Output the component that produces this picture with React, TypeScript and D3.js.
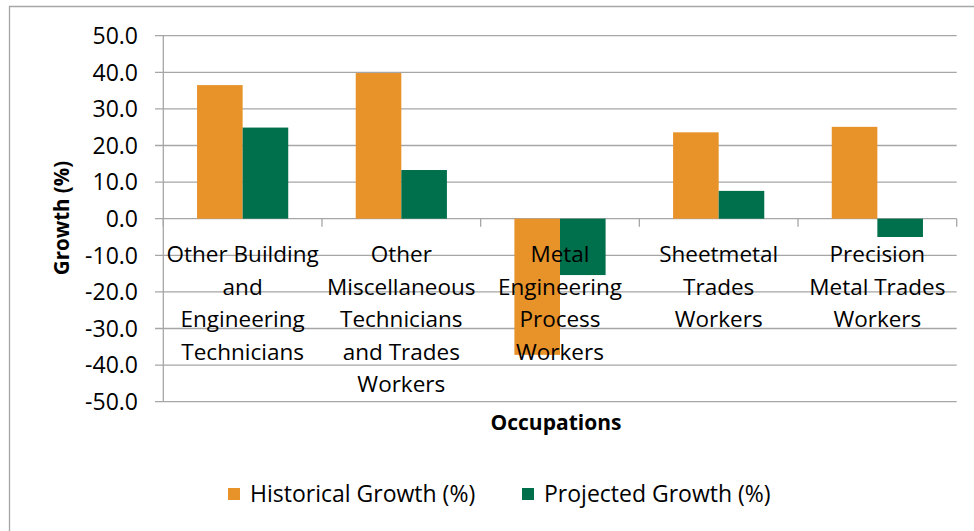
import React from "react";
import * as d3 from "d3";

const categories: string[][] = [
  ["Other Building", "and", "Engineering", "Technicians"],
  ["Other", "Miscellaneous", "Technicians", "and Trades", "Workers"],
  ["Metal", "Engineering", "Process", "Workers"],
  ["Sheetmetal", "Trades", "Workers"],
  ["Precision", "Metal Trades", "Workers"],
];
const historical: number[] = [36.5, 39.8, -37.2, 23.6, 25.1];
const projected: number[] = [24.9, 13.3, -15.4, 7.6, -5.0];
const yTicks: number[] = [50, 40, 30, 20, 10, 0, -10, -20, -30, -40, -50];
const seriesNames: string[] = ["Historical Growth (%)", "Projected Growth (%)"];
const colors: string[] = ["#E8922A", "#006F4B"];

const FONT = "'Open Sans', 'Noto Sans', sans-serif";

export default function App() {
  const W = 974, H = 531;
  const left = 163.3, right = 956.7, top = 35.7, bottom = 401.7;
  const idx = categories.map((_, i) => i);
  const x = d3.scaleBand<number>().domain(idx).range([left, right]).paddingInner(0).paddingOuter(0);
  const y = d3.scaleLinear().domain([-50, 50]).range([bottom, top]);
  const step = x.bandwidth();
  const inner = d3.scaleBand<number>().domain([0, 1]).range([0, step]).paddingInner(0).paddingOuter(0.74);
  const y0 = y(0);
  const grid = "#A6A6A6";

  return (
    <svg width={W} height={H} style={{ position: "absolute", left: 0, top: 0 }} fontFamily={FONT}>
      <rect x={0} y={0} width={W} height={H} fill="#fff" />
      <path d={`M9.5,${H}V6.5H${W}`} fill="none" stroke="#A6A6A6" strokeWidth={1.3} />
      {yTicks.map((t) => (
        <g key={t}>
          <line x1={155} x2={right} y1={y(t)} y2={y(t)} stroke={grid} strokeWidth={1.3} />
          <text x={138} y={y(t)} dy="0.36em" textAnchor="end" fontSize={23} fill="#000">
            {t.toFixed(1)}
          </text>
        </g>
      ))}
      {idx.map((i) => (
        <g key={i}>
          {[historical[i], projected[i]].map((v, s) => (
            <rect
              key={s}
              x={(x(i) as number) + (inner(s) as number)}
              width={inner.bandwidth()}
              y={Math.min(y(v), y0)}
              height={Math.abs(y(v) - y0)}
              fill={colors[s]}
            />
          ))}
        </g>
      ))}
      <line x1={left} x2={left} y1={top} y2={bottom} stroke={grid} strokeWidth={1.3} />
      {idx.concat([idx.length]).map((i) => {
        const xx = i < idx.length ? (x(i) as number) : right;
        return <line key={i} x1={xx} x2={xx} y1={y0} y2={y0 + 8} stroke={grid} strokeWidth={1.3} />;
      })}
      {categories.map((lines, i) => (
        <text key={i} textAnchor="middle" fontSize={22.5} fill="#000">
          {lines.map((l, k) => (
            <tspan key={k} x={(x(i) as number) + step / 2} y={262 + k * 32.5}>
              {l}
            </tspan>
          ))}
        </text>
      ))}
      <text
        transform={`translate(69,218) rotate(-90)`}
        textAnchor="middle"
        fontSize={20.5}
        fontWeight="bold"
        fill="#000"
      >
        Growth (%)
      </text>
      <text x={556} y={430} textAnchor="middle" fontSize={21} fontWeight="bold" fill="#000">
        Occupations
      </text>
      {seriesNames.map((n, s) => {
        const lx = s === 0 ? 228 : 522;
        return (
          <g key={n}>
            <rect x={lx} y={488} width={12} height={12} fill={colors[s]} />
            <text x={lx + 22} y={502} fontSize={23} fill="#000">
              {n}
            </text>
          </g>
        );
      })}
    </svg>
  );
}
